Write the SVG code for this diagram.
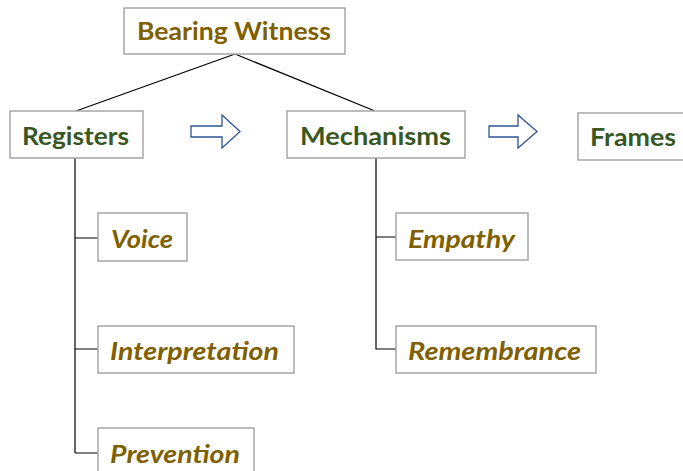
<svg xmlns="http://www.w3.org/2000/svg" width="683" height="471" viewBox="0 0 683 471">
<style>
.box{fill:#fff;stroke:#a6a6a6;stroke-width:1.5}
.t{font-family:Lato,"Noto Sans","Liberation Sans",sans-serif;font-weight:bold;font-size:25px}
.gold{fill:#7f6000}
.green{fill:#385723}
.it{font-style:italic}
.ln{fill:none;stroke:#000;stroke-width:1.2}
.arr{fill:#fff;stroke:#2f5597;stroke-width:1.3}
</style>
<rect width="683" height="471" fill="#fff"/>
<g id="connectors">
<path class="ln" d="M235 54 L76 111 M235 54 L375 111"/>
<path class="ln" d="M75 158 V453 M75 238 H98 M75 349 H98 M75 453 H98"/>
<path class="ln" d="M376 158 V349 H396 M376 237 H396"/>
<path class="arr" d="M191 126 H222 V115 L240 131.5 L222 148 V137 H191 Z"/>
<path class="arr" d="M489 126 H518 V115 L537 131.5 L518 148 V137 H489 Z"/>
</g>
<g id="bearing-witness"><rect class="box" x="124" y="8" width="221" height="46"/><text class="t gold" x="137" y="39.5" textLength="194" lengthAdjust="spacingAndGlyphs">Bearing Witness</text></g>
<g id="registers"><rect class="box" x="10" y="111" width="133" height="47"/><text class="t green" x="22" y="145" textLength="107" lengthAdjust="spacingAndGlyphs">Registers</text></g>
<g id="mechanisms"><rect class="box" x="287" y="111" width="178" height="47"/><text class="t green" x="300" y="145" textLength="151" lengthAdjust="spacingAndGlyphs">Mechanisms</text></g>
<g id="frames"><rect class="box" x="578" y="113" width="110" height="47"/><text class="t green" x="590" y="146" textLength="86" lengthAdjust="spacingAndGlyphs">Frames</text></g>
<g id="voice"><rect class="box" x="98" y="213" width="89" height="48"/><text class="t gold it" x="111" y="248" textLength="62" lengthAdjust="spacingAndGlyphs">Voice</text></g>
<g id="interpretation"><rect class="box" x="98" y="326" width="196" height="47"/><text class="t gold it" x="110" y="360" textLength="169" lengthAdjust="spacingAndGlyphs">Interpretation</text></g>
<g id="prevention"><rect class="box" x="98" y="428" width="156" height="50"/><text class="t gold it" x="110" y="463" textLength="130" lengthAdjust="spacingAndGlyphs">Prevention</text></g>
<g id="empathy"><rect class="box" x="396" y="213" width="132" height="47"/><text class="t gold it" x="408" y="248" textLength="107" lengthAdjust="spacingAndGlyphs">Empathy</text></g>
<g id="remembrance"><rect class="box" x="396" y="326" width="200" height="47"/><text class="t gold it" x="408" y="360" textLength="173" lengthAdjust="spacingAndGlyphs">Remembrance</text></g>
</svg>
